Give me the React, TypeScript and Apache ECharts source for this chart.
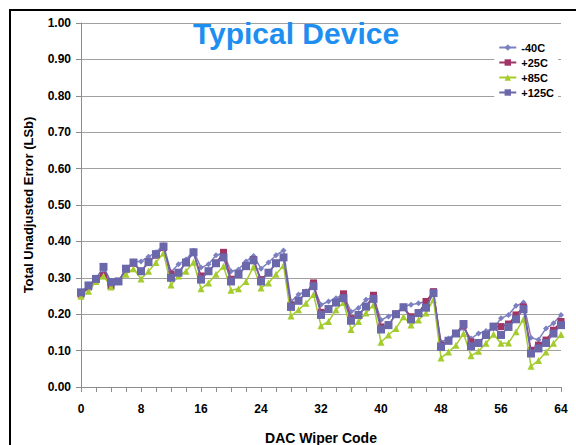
import React, { useEffect, useRef } from "react";
import * as echarts from "echarts";

const codes: number[] = Array.from({ length: 65 }, (_, i) => i);

const seriesNames = ["-40C", "+25C", "+85C", "+125C"];

const m40C = [
  0.255, 0.27, 0.29, 0.314, 0.29, 0.29, 0.32, 0.345, 0.345, 0.358, 0.37, 0.39,
  0.316, 0.337, 0.35, 0.374, 0.328, 0.337, 0.362, 0.368, 0.318, 0.323, 0.345, 0.36,
  0.325, 0.342, 0.362, 0.375, 0.235, 0.254, 0.263, 0.275, 0.226, 0.235, 0.244, 0.254,
  0.207, 0.217, 0.24, 0.247, 0.184, 0.194, 0.203, 0.221, 0.226, 0.23, 0.235, 0.256,
  0.124, 0.133, 0.149, 0.161, 0.133, 0.147, 0.154, 0.161, 0.189, 0.198, 0.223, 0.232,
  0.135, 0.13, 0.161, 0.175, 0.198,
];

const p25C = [
  0.255, 0.275, 0.295, 0.306, 0.278, 0.29, 0.325, 0.34, 0.318, 0.343, 0.362, 0.383,
  0.31, 0.314, 0.342, 0.37, 0.305, 0.318, 0.34, 0.37, 0.296, 0.31, 0.332, 0.35,
  0.295, 0.314, 0.34, 0.356, 0.225, 0.237, 0.258, 0.286, 0.205, 0.214, 0.232, 0.256,
  0.188, 0.198, 0.221, 0.252, 0.165, 0.17, 0.2, 0.219, 0.193, 0.203, 0.235, 0.262,
  0.115, 0.127, 0.147, 0.17, 0.124, 0.121, 0.143, 0.166, 0.166, 0.173, 0.198, 0.22,
  0.101, 0.115, 0.129, 0.156, 0.18,
];

const p85C = [
  0.249, 0.263, 0.29, 0.305, 0.275, 0.29, 0.31, 0.325, 0.297, 0.318, 0.342, 0.368,
  0.28, 0.305, 0.318, 0.343, 0.27, 0.286, 0.31, 0.332, 0.266, 0.27, 0.29, 0.33,
  0.272, 0.286, 0.31, 0.334, 0.195, 0.212, 0.23, 0.254, 0.168, 0.18, 0.212, 0.232,
  0.158, 0.18, 0.203, 0.226, 0.123, 0.143, 0.161, 0.193, 0.17, 0.184, 0.203, 0.24,
  0.08, 0.096, 0.115, 0.147, 0.086, 0.098, 0.12, 0.145, 0.12, 0.121, 0.152, 0.186,
  0.057, 0.073, 0.096, 0.12, 0.144,
];

const p125C = [
  0.26, 0.279, 0.297, 0.33, 0.288, 0.29, 0.325, 0.342, 0.318, 0.343, 0.365, 0.386,
  0.3, 0.314, 0.342, 0.37, 0.295, 0.318, 0.34, 0.356, 0.29, 0.31, 0.332, 0.348,
  0.29, 0.314, 0.34, 0.356, 0.22, 0.237, 0.258, 0.277, 0.198, 0.214, 0.232, 0.244,
  0.182, 0.198, 0.221, 0.242, 0.158, 0.17, 0.2, 0.219, 0.186, 0.203, 0.218, 0.258,
  0.11, 0.127, 0.147, 0.173, 0.112, 0.121, 0.143, 0.166, 0.143, 0.165, 0.186, 0.214,
  0.092, 0.106, 0.121, 0.147, 0.17,
];

const seriesData = [m40C, p25C, p85C, p125C];
const colors = ["#7C80C0", "#A03565", "#A4CC2E", "#6A68AA"];
const symbols = ["diamond", "rect", "triangle", "rect"];
const symbolSizes = [6, 7, 7, 8];

export default function App() {
  const ref = useRef<HTMLDivElement>(null);
  useEffect(() => {
    if (!ref.current) return;
    const chart = echarts.init(ref.current, null, { renderer: "svg" });
    const font = "'Liberation Sans', Arial, sans-serif";
    chart.setOption({
      animation: false,
      textStyle: { fontFamily: font },
      graphic: [
        {
          type: "rect",
          shape: { x: 10, y: 10, width: 620, height: 500 },
          style: { fill: "none", stroke: "#000", lineWidth: 2 },
          z: 100,
        },
      ],
      title: {
        text: "Typical Device",
        left: 291,
        top: 13,
        textAlign: "center",
        textStyle: {
          color: "#1E8FF0",
          fontSize: 30,
          fontWeight: "bold",
          fontFamily: font,
        },
      },
      legend: {
        orient: "vertical",
        right: 18,
        top: 40,
        backgroundColor: "#fff",
        padding: [2, 4, 2, 4],
        itemGap: 4,
        itemWidth: 17,
        itemHeight: 8,
        data: seriesNames,
        textStyle: { fontSize: 11, fontWeight: "bold", color: "#000", fontFamily: font },
      },
      grid: { left: 81, right: 15, top: 23, bottom: 58, outerBoundsMode: "none", containLabel: false },
      xAxis: {
        type: "value",
        min: 0,
        max: 64,
        interval: 2,
        name: "DAC Wiper Code",
        nameLocation: "middle",
        nameGap: 44,
        nameTextStyle: { fontSize: 14, fontWeight: "bold", color: "#000" },
        axisLine: { show: true, lineStyle: { color: "#8C8C8C" } },
        axisTick: { show: true, length: 5, lineStyle: { color: "#8C8C8C" } },
        axisLabel: {
          formatter: (v: number) => (v % 8 === 0 ? String(v) : ""),
          fontSize: 12,
          fontWeight: "bold",
          color: "#000",
          margin: 16,
          showMinLabel: true,
          showMaxLabel: true,
        },
        splitLine: { show: false },
      },
      yAxis: {
        type: "value",
        min: 0,
        max: 1,
        interval: 0.1,
        name: "Total Unadjusted Error (LSb)",
        nameLocation: "middle",
        nameGap: 46,
        nameTextStyle: { fontSize: 13, fontWeight: "bold", color: "#000" },
        axisLine: { show: true, lineStyle: { color: "#8C8C8C" } },
        axisTick: { show: true, length: 5, lineStyle: { color: "#8C8C8C" } },
        axisLabel: {
          formatter: (v: number) => v.toFixed(2),
          fontSize: 12,
          fontWeight: "bold",
          color: "#000",
          margin: 10,
        },
        splitLine: { show: true, lineStyle: { color: "#A0A0A0", width: 1 } },
      },
      series: seriesNames.map((name, i) => ({
        name,
        type: "line",
        data: codes.map((c, j) => [c, seriesData[i][j]]),
        symbol: symbols[i],
        symbolSize: symbolSizes[i],
        showAllSymbol: true,
        itemStyle: { color: colors[i] },
        lineStyle: { color: colors[i], width: 1.5 },
        z: 2 + i,
      })),
    });
    return () => chart.dispose();
  }, []);
  return (
    <div
      ref={ref}
      style={{ position: "fixed", left: 0, top: 0, width: 576, height: 445, background: "#fff" }}
    />
  );
}
